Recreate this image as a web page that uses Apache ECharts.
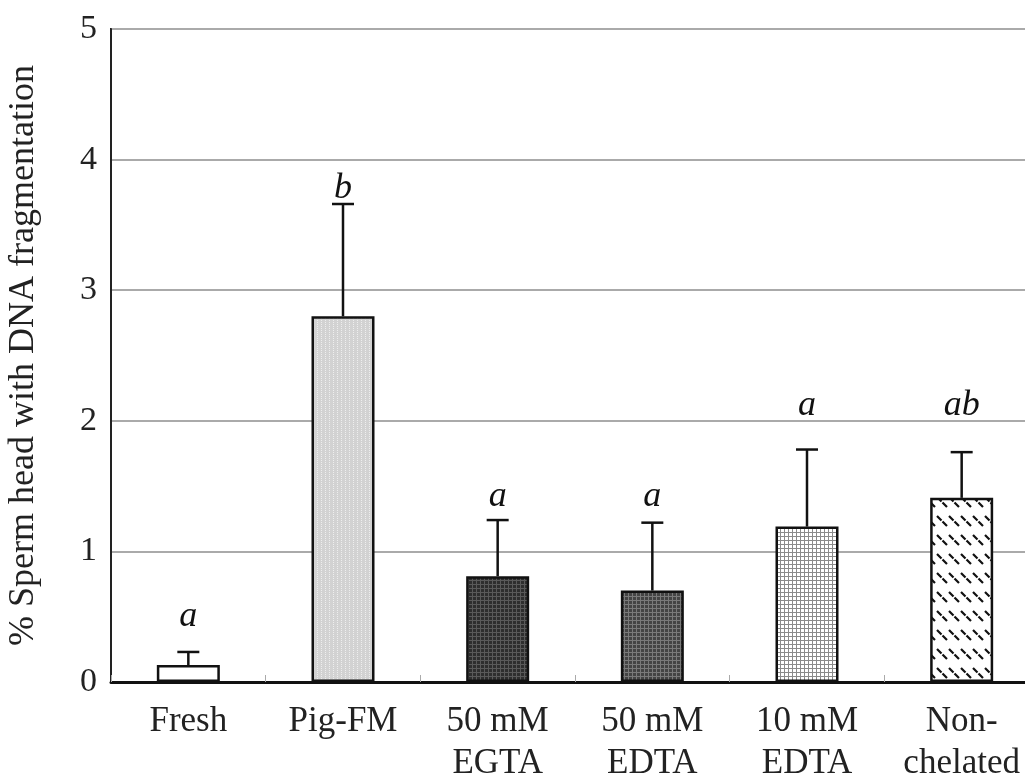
<!DOCTYPE html>
<html>
<head>
<meta charset="utf-8">
<script src="https://cdn.jsdelivr.net/npm/echarts@6/dist/echarts.min.js"></script>
<style>
  html, body { margin: 0; padding: 0; background: #fff; }
  #chart { width: 1025px; height: 781px; }
</style>
</head>
<body>
<div id="chart"></div>
<script>
// data
const categories = ['Fresh', 'Pig-FM', '50 mM\nEGTA', '50 mM\nEDTA', '10 mM\nEDTA', 'Non-\nchelated'];
const means = [0.13, 2.8, 0.81, 0.7, 1.19, 1.41];
const errTops = [0.23, 3.66, 1.24, 1.22, 1.78, 1.76];
const letters = ['a', 'b', 'a', 'a', 'a', 'ab'];
const letterPos = [0.5, 3.78, 1.42, 1.42, 2.12, 2.12];
const yTicks = [0, 1, 2, 3, 4, 5];

const FONT = '"Liberation Serif", "DejaVu Serif", serif';

// small canvas tiles for the bar fills
function tile(w, h, draw) {
    let c = document.createElement('canvas');
    c.width = w;
    c.height = h;
    let ctx = c.getContext('2d');
    draw(ctx);
    return { image: c, repeat: 'repeat' };
}

function gridTile(bg, line, size) {
    return tile(size, size, ctx => {
        ctx.fillStyle = bg;
        ctx.fillRect(0, 0, size, size);
        ctx.fillStyle = line;
        ctx.fillRect(0, 0, size, 1);
        ctx.fillRect(0, 0, 1, size);
    });
}

let fills = [
    '#ffffff',
    tile(4, 4, ctx => {
        ctx.fillStyle = '#d2d2d2';
        ctx.fillRect(0, 0, 4, 4);
        ctx.fillStyle = '#eeeeee';
        ctx.fillRect(1, 0, 1, 1);
        ctx.fillRect(1, 2, 1, 1);
    }),
    gridTile('#2e2e2e', '#5a5a5a', 4),
    gridTile('#444444', '#7a7a7a', 4),
    gridTile('#ffffff', '#8a8a8a', 4),
    tile(12, 19, ctx => {
        ctx.fillStyle = '#ffffff';
        ctx.fillRect(0, 0, 12, 19);
        ctx.strokeStyle = '#111';
        ctx.lineWidth = 2.2;
        ctx.beginPath();
        ctx.moveTo(1, 3); ctx.lineTo(5.5, 7.5);
        ctx.moveTo(6.5, 8.5); ctx.lineTo(11, 13);
        ctx.stroke();
    })
];

let chart = echarts.init(document.getElementById('chart'));

let option = {
    backgroundColor: '#fff',
    animation: false,
    grid: {
        left: 111, top: 29, height: 653, width: 928,
        outerBoundsMode: 'none',
        containLabel: false,
        show: true, borderColor: '#222', borderWidth: 2
    },
    xAxis: {
        type: 'category',
        data: categories,
        axisLine: { lineStyle: { color: '#111', width: 3 } },
        axisTick: { show: true, inside: true, length: 7, lineStyle: { color: '#aaa', width: 1 } },
        axisLabel: {
            color: '#222', fontFamily: FONT, fontSize: 35, lineHeight: 42, margin: 19,
            interval: 0
        }
    },
    yAxis: {
        type: 'value',
        min: 0, max: 5, interval: 1,
        name: '% Sperm head with DNA fragmentation',
        nameLocation: 'middle',
        nameGap: 69,
        nameTextStyle: { color: '#222', fontFamily: FONT, fontSize: 36 },
        axisLine: { show: true, lineStyle: { color: '#222', width: 2 } },
        axisTick: { show: false },
        axisLabel: {
            color: '#222', fontFamily: FONT, fontSize: 34, margin: 14,
            formatter: v => yTicks.includes(v) ? String(v) : ''
        },
        splitLine: { lineStyle: { color: '#aaa', width: 2 } }
    },
    series: [
        {
            type: 'bar',
            barWidth: 63,
            data: means.map((v, i) => ({
                value: v,
                itemStyle: { color: fills[i] }
            })),
            itemStyle: { borderColor: '#111', borderWidth: 2.5 },
            z: 3
        },
        {
            type: 'custom',
            data: means.map((v, i) => [i, v, errTops[i]]),
            renderItem: (params, api) => {
                let base = api.coord([api.value(0), api.value(1)]);
                let top = api.coord([api.value(0), api.value(2)]);
                let half = 11;
                let style = { stroke: '#111', lineWidth: 2.5 };
                return {
                    type: 'group',
                    children: [
                        { type: 'line', shape: { x1: base[0], y1: base[1], x2: top[0], y2: top[1] }, style },
                        { type: 'line', shape: { x1: top[0] - half, y1: top[1], x2: top[0] + half, y2: top[1] }, style }
                    ]
                };
            },
            z: 2
        },
        {
            type: 'custom',
            data: letterPos.map((v, i) => [i, v]),
            renderItem: (params, api) => {
                let p = api.coord([api.value(0), api.value(1)]);
                return {
                    type: 'text',
                    x: p[0], y: p[1],
                    style: {
                        text: letters[params.dataIndex],
                        fill: '#111',
                        font: 'italic 36px ' + FONT,
                        align: 'center',
                        verticalAlign: 'middle'
                    }
                };
            },
            z: 4
        }
    ]
};

chart.setOption(option);
</script>
</body>
</html>
